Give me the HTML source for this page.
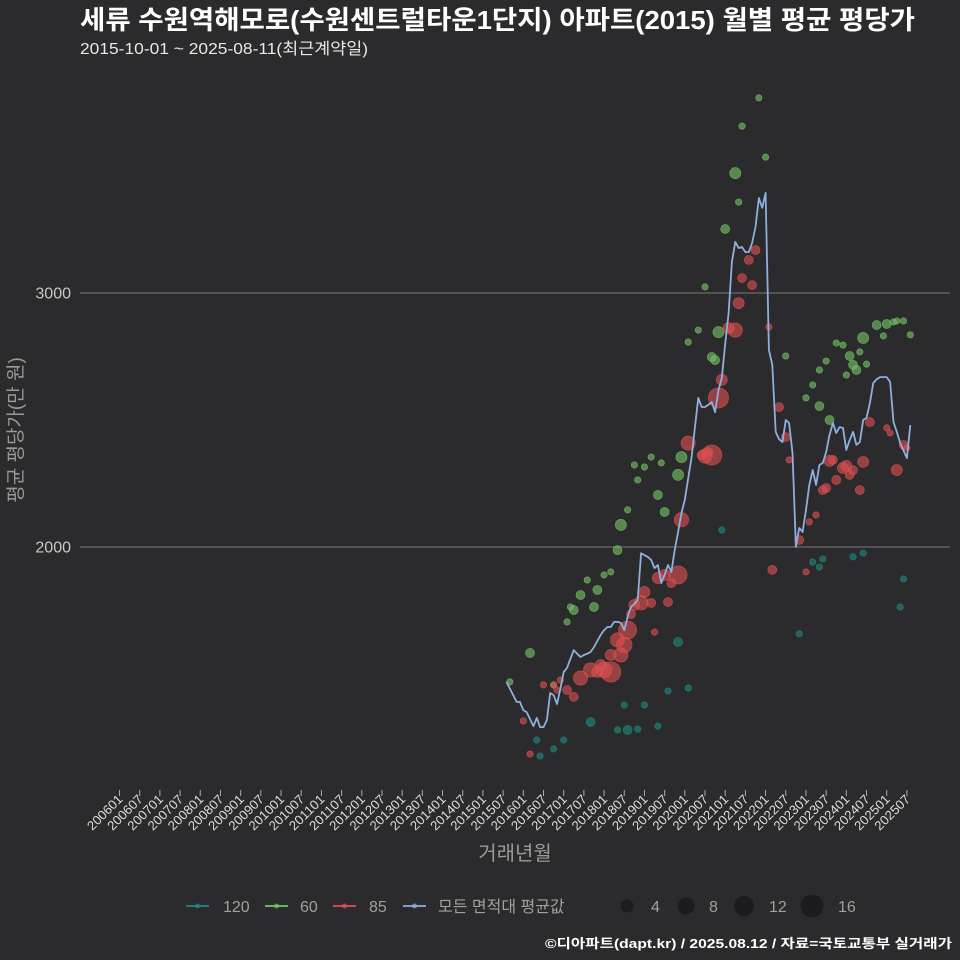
<!DOCTYPE html>
<html><head><meta charset="utf-8">
<style>
html,body{margin:0;padding:0;background:#2b2b2d;}
svg{display:block;}
text{font-family:"Liberation Sans","Noto Sans CJK KR",sans-serif;}
</style></head>
<body>
<svg id="chart" width="960" height="960" viewBox="0 0 960 960" xmlns="http://www.w3.org/2000/svg">
<rect width="960" height="960" fill="#2b2b2d"/>
<text x="80" y="29" fill="#ffffff" font-size="26" font-weight="bold" textLength="835" lengthAdjust="spacingAndGlyphs">세류 수원역해모로(수원센트럴타운1단지) 아파트(2015) 월별 평균 평당가</text>
<text x="80" y="54" fill="#e8e8e8" font-size="16" textLength="288" lengthAdjust="spacingAndGlyphs">2015-10-01 ~ 2025-08-11(최근계약일)</text>
<g id="grid"></g>
<g id="yticks"></g>
<g id="xticks"></g>
<g id="points"></g>
<g id="line"></g>
<text x="515" y="860" fill="#9a9a9a" font-size="20" text-anchor="middle">거래년월</text>
<text transform="translate(22,430) rotate(-90)" fill="#9a9a9a" font-size="19" text-anchor="middle">평균 평당가(만 원)</text>
<g id="legend"></g>
<text x="952" y="948" fill="#ffffff" font-size="13" font-weight="bold" text-anchor="end" textLength="407" lengthAdjust="spacingAndGlyphs">©디아파트(dapt.kr) / 2025.08.12 / 자료=국토교통부 실거래가</text>
</svg>
<script>
const xTickLabels = ["200601","200607","200701","200707","200801","200807","200901","200907","201001","201007","201101","201107","201201","201207","201301","201307","201401","201407","201501","201507","201601","201607","201701","201707","201801","201807","201901","201907","202001","202007","202101","202107","202201","202207","202301","202307","202401","202407","202501","202507"];
const yTickValues = [2000, 3000];
const lineMonths = ["201508","201511","201512","201601","201602","201604","201605","201606","201607","201608","201609","201610","201611","201612","201701","201702","201703","201704","201705","201706","201707","201708","201709","201710","201711","201712","201801","201802","201803","201804","201805","201806","201807","201808","201809","201810","201811","201812","201901","201902","201903","201904","201905","201906","201907","201908","201909","201910","201911","201912","202001","202002","202003","202004","202005","202006","202007","202008","202009","202010","202011","202012","202101","202102","202103","202104","202105","202106","202107","202108","202109","202110","202111","202112","202201","202202","202203","202204","202205","202206","202207","202208","202209","202210","202211","202212","202301","202302","202303","202304","202305","202306","202307","202308","202309","202310","202311","202312","202401","202402","202403","202404","202405","202406","202407","202408","202409","202410","202411","202412","202501","202502","202503","202504","202505","202506","202507","202508"];
const lineValues = [1469,1390,1390,1358,1350,1295,1327,1291,1291,1319,1425,1417,1382,1440,1508,1524,1560,1594,1580,1567,1575,1580,1587,1606,1630,1654,1673,1685,1685,1705,1705,1701,1673,1724,1764,1775,1791,1976,1968,1961,1949,1917,1929,1858,1890,1929,1902,1988,2059,2134,2185,2270,2354,2470,2587,2551,2551,2560,2571,2531,2618,2665,2800,2921,3122,3201,3177,3181,3161,3161,3197,3260,3374,3335,3394,2776,2717,2453,2425,2413,2500,2488,2370,2000,2075,2059,2146,2244,2303,2244,2323,2331,2374,2441,2488,2449,2472,2469,2382,2421,2453,2402,2413,2500,2508,2567,2646,2660,2669,2669,2669,2650,2492,2453,2409,2380,2350,2480];

const g60Months = ["201509","201603","201610","201702","201703","201704","201706","201708","201710","201711","201801","201803","201805","201806","201808","201810","201811","201901","201903","201905","201906","201907","201911","201912","202002","202005","202007","202009","202010","202011","202101","202104","202105","202106","202111","202201","202207","202301","202303","202305","202305","202307","202308","202310","202312","202401","202402","202403","202404","202405","202406","202407","202410","202412","202501","202503","202504","202506","202508"];
const g60Values = [1469,1583,1457,1705,1764,1752,1811,1870,1764,1831,1890,1902,1988,2087,2146,2323,2264,2315,2354,2205,2331,2138,2284,2354,2807,2854,3024,2748,2736,2846,3252,3472,3358,3657,3768,3535,2752,2587,2638,2697,2555,2732,2500,2803,2795,2677,2752,2717,2697,2768,2823,2720,2874,2831,2878,2886,2890,2890,2835];
const g60Counts = [1,2,1,1,1,2,2,1,2,2,1,1,2,3,1,1,1,1,1,2,1,2,3,3,1,1,1,2,2,3,2,3,1,1,1,1,1,1,1,1,2,1,2,1,1,1,2,2,2,1,3,1,2,1,2,1,1,1,1];

const g85Months = ["201601","201603","201607","201610","201611","201612","201702","201704","201706","201709","201711","201712","201801","201803","201803","201805","201806","201807","201808","201809","201810","201812","201901","201903","201904","201905","201907","201908","201909","201911","201912","202002","202006","202007","202008","202009","202011","202012","202102","202104","202105","202106","202108","202110","202109","202202","202203","202205","202207","202208","202211","202301","202302","202304","202306","202307","202308","202309","202310","202312","202401","202402","202403","202405","202406","202408","202501","202502","202504","202506","202507"];
const g85Values = [1315,1185,1457,1457,1437,1476,1437,1410,1484,1516,1508,1535,1516,1508,1575,1634,1575,1614,1673,1736,1772,1780,1823,1780,1665,1878,1890,1783,1858,1890,2107,2409,2362,2358,2374,2362,2587,2658,2862,2854,2960,3059,3130,3169,3031,2866,1910,2551,2433,2343,2028,1902,2099,2126,2224,2232,2339,2343,2264,2311,2319,2284,2303,2224,2335,2492,2469,2449,2303,2402,2390];
const g85Counts = [1,1,1,1,1,1,2,2,5,5,3,3,6,10,3,5,5,6,8,2,3,5,3,2,1,3,3,2,2,8,5,5,2,5,2,10,10,3,3,5,3,2,2,2,2,1,2,2,2,1,2,1,1,1,2,2,3,2,2,3,3,2,2,2,3,2,1,1,3,2,1];

const g120Months = ["201605","201606","201610","201701","201709","201805","201807","201808","201811","201901","201905","201908","201911","202002","202012","202211","202303","202305","202306","202403","202406","202505","202506"];
const g120Values = [1240,1177,1205,1240,1311,1280,1378,1280,1283,1378,1295,1433,1626,1445,2067,1658,1941,1921,1953,1961,1976,1764,1874];
const g120Counts = [1,1,1,1,2,1,1,2,1,1,1,1,2,1,1,1,1,1,1,1,1,1,1];

const NS = "http://www.w3.org/2000/svg";
function monthIdx(s){ return (parseInt(s.slice(0,4))-2006)*12 + parseInt(s.slice(4,6)) - 1; }
function xScale(s){ return 119.5 + monthIdx(s)*3.365; }
function yScale(v){ return 547 - (v-2000)*0.254; }
function rScale(n){ return 3.2*Math.sqrt(n); }
function mk(tag, attrs, parent){
  const e = document.createElementNS(NS, tag);
  for (const k in attrs) e.setAttribute(k, attrs[k]);
  parent.appendChild(e); return e;
}
const grid = document.getElementById('grid');
const yt = document.getElementById('yticks');
yTickValues.forEach(v => {
  const l = mk('line', {x1:80, x2:950, y1:yScale(v), y2:yScale(v), stroke:'#6a6a6a', 'stroke-width':1.3}, grid);
  
  
  const t = mk('text', {x:71, y:yScale(v)+5.5, fill:'#c8c8c8', 'font-size':16, 'text-anchor':'end'}, yt);
  t.textContent = v;
  
  
});
const xt = document.getElementById('xticks');
xTickLabels.forEach(s => {
  const x = xScale(s);
  const tk = mk('line', {x1:x, x2:x, y1:790, y2:796, stroke:'#aaaaaa', 'stroke-width':1}, xt);
  
  
  const t = mk('text', {transform:`translate(${x+4},${800}) rotate(-45)`, fill:'#dddddd', 'font-size':13, 'text-anchor':'end', textLength:44, lengthAdjust:'spacingAndGlyphs'}, xt);
  t.textContent = s;
  
  
});
const pts = document.getElementById('points');
function drawGroup(months, values, counts, color, name){
  months.forEach((m,i) => {
    const c = mk('circle', {cx:xScale(m), cy:yScale(values[i]), r:rScale(counts[i]), fill:color, 'fill-opacity':0.6, stroke:color, 'stroke-opacity':0.8, 'stroke-width':0.6}, pts);
    
    
  });
}
drawGroup(g120Months, g120Values, g120Counts, '#1e8a80', 'point-120');
drawGroup(g60Months, g60Values, g60Counts, '#76c565', 'point-60');
drawGroup(g85Months, g85Values, g85Counts, '#e05050', 'point-85');
const d = lineMonths.map((m,i) => (i?'L':'M') + xScale(m).toFixed(1) + ',' + yScale(lineValues[i]).toFixed(1)).join(' ');
const path = mk('path', {d:d, fill:'none', stroke:'#8fb0de', 'stroke-width':1.8, 'stroke-linejoin':'round'}, document.getElementById('line'));



const lg = document.getElementById('legend');
const legItems = [['120','#1e8a80',186,223],['60','#76c565',265,300],['85','#e05050',333,369],['모든 면적대 평균값','#8fb0de',403,438]];
legItems.forEach(it => {
  const ln = mk('line', {x1:it[2], x2:it[2]+23, y1:906, y2:906, stroke:it[1], 'stroke-width':1.8}, lg);
  
  
  const c = mk('circle', {cx:it[2]+11.5, cy:906, r:2.5, fill:it[1], 'fill-opacity':0.7}, lg);
  
  
  const t = mk('text', {x:it[3], y:912, fill:'#a0a0a0', 'font-size':16}, lg);
  t.textContent = it[0];
  
  
});
const sizeItems = [[4,627,6.5,651],[8,686,8.5,709],[12,744,10,769],[16,812,11.5,838]];
sizeItems.forEach(it => {
  const c = mk('circle', {cx:it[1], cy:906, r:it[2], fill:'#1c1c1e'}, lg);
  
  
  const t = mk('text', {x:it[3], y:912, fill:'#a0a0a0', 'font-size':16}, lg);
  t.textContent = it[0];
  
  
});
</script>
</body></html>
